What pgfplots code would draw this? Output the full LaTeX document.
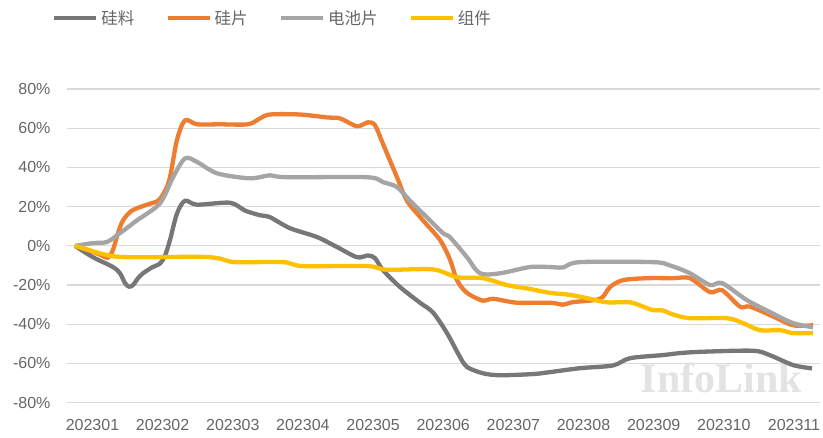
\documentclass[border=0pt]{standalone}
\usepackage{fontspec}
\setmainfont{Liberation Sans}
\newfontfamily\cjk{Noto Sans CJK SC}
\newfontfamily\wm{Liberation Serif}
\usepackage{pgfplots}
\pgfplotsset{compat=1.18}
\definecolor{cSiliao}{HTML}{777777}
\definecolor{cGuipian}{HTML}{ED7D31}
\definecolor{cCell}{HTML}{A5A5A5}
\definecolor{cModule}{HTML}{FFC000}
\definecolor{txtgray}{HTML}{666666}
\definecolor{gridgray}{HTML}{D9D9D9}
\begin{document}
\begin{tikzpicture}
\path[use as bounding box] (-67pt,-34.3pt) rectangle (756pt,402.7pt);
\begin{axis}[
  at={(0,0)}, anchor=south west,
  scale only axis, width=753pt, height=313.7pt,
  xmin=67, xmax=820, ymin=-80, ymax=80,
  axis line style={draw=none},
  tick style={draw=none},
  ymajorgrids, major grid style={color=gridgray, line width=1.2pt},
  ytick={-80,-60,-40,-20,0,20,40,60,80},
  yticklabels={-80\%,-60\%,-40\%,-20\%,0\%,20\%,40\%,60\%,80\%},
  xtick={92.5,162.6,232.8,302.9,373.1,443.2,513.4,583.5,653.7,723.8,794},
  xticklabels={202301,202302,202303,202304,202305,202306,202307,202308,202309,202310,202311},
  ticklabel style={font=\fontsize{16}{18}\selectfont, text=txtgray},
  xticklabel style={yshift=-13pt},
  yticklabel style={xshift=-13pt},
  legend style={at={(axis description cs:-0.02,1.226)}, anchor=west, draw=none, fill=none,
    inner sep=0pt, font=\cjk\fontsize{16.5}{18}\selectfont, text=txtgray,
    /tikz/every odd column/.append style={column sep=2pt},
    /tikz/every even column/.append style={column sep=30pt},
    nodes={inner sep=1pt}},
  legend columns=4,
  legend image code/.code={\draw[#1] (0pt,0pt) -- (42pt,0pt);},
  every axis plot/.append style={line width=4.3pt, smooth, no markers},
  clip=false,
]
\node[anchor=base, text=gray!22, font=\wm\bfseries\fontsize{42}{44}\selectfont] at (axis cs:721.5,-74.6) {InfoLink};

\addplot[cSiliao] coordinates {
(75,0)(93,-5.8)(113,-10.8)(120,-14)(125,-19)(129,-20.8)(133,-20)(138,-16.5)(143,-14)(152,-11)(160,-9)(165,-5)(170,3)(177,16.5)(185,23)(197,21)(230,22)(245,18)(260,15.6)(270,14.6)(290,9)(317,4.5)(337,-0.6)(357,-5.8)(368,-4.9)(375,-6.3)(383,-12.4)(400,-21)(420,-29)(433,-34)(447,-44.5)(460,-56.7)(467,-61.8)(483,-65)(500,-66)(533,-65.4)(550,-64.4)(580,-62.4)(613,-61)(630,-57.3)(663,-55.7)(680,-54.7)(703,-54)(753,-53.5)(770,-55.8)(793,-60.8)(812,-62.5)
};
\addlegendentry{硅料}

\addplot[cGuipian] coordinates {
(75,0)(90,-2.5)(100,-4.5)(108,-6)(113,-2)(118,6.5)(123,13)(132,18)(147,21)(158,23)(165,28)(170,35)(177,54)(185,64)(197,62)(220,62)(248,62)(260,65)(270,67)(300,67)(327,65.5)(340,65)(357,61)(368,63)(375,61.5)(383,52)(397,35)(407,23)(423,13)(440,3)(450,-7)(457,-17.5)(467,-24)(483,-28)(493,-27)(517,-29)(550,-29)(563,-30)(573,-28.7)(600,-27)(610,-21)(623,-17.5)(647,-16.5)(673,-16.5)(690,-16.5)(710,-23.6)(722,-22.6)(740,-31)(750,-31)(773,-36)(793,-40.5)(813,-40.5)
};
\addlegendentry{硅片}

\addplot[cCell] coordinates {
(75,0)(93,1.4)(107,2)(120,6.5)(137,13)(160,21.7)(173,35)(185,44.6)(197,42.8)(217,37)(247,34.5)(260,35)(270,36)(287,35)(367,35)(383,32.5)(397,30)(410,23)(427,14.5)(443,6.5)(450,4.4)(467,-5.8)(480,-14)(500,-14)(530,-10.8)(550,-10.8)(563,-11)(580,-8.3)(653,-8.3)(670,-10)(690,-14)(710,-20)(722,-19)(747,-27.7)(770,-33.8)(793,-39.4)(813,-41.5)
};
\addlegendentry{电池片}

\addplot[cModule] coordinates {
(75,0)(107,-4.7)(130,-5.8)(200,-5.6)(220,-6.5)(235,-8.3)(283,-8.3)(303,-10.3)(367,-10.3)(387,-12.2)(433,-12)(457,-16)(483,-16.5)(507,-20)(530,-22)(550,-24)(570,-25)(590,-27)(607,-28.8)(630,-28.8)(643,-31)(653,-32.8)(663,-33)(673,-35)(690,-36.9)(727,-36.9)(743,-39.4)(760,-43)(780,-43)(793,-44.5)(813,-44.5)
};
\addlegendentry{组件}
\end{axis}
\end{tikzpicture}
\end{document}
